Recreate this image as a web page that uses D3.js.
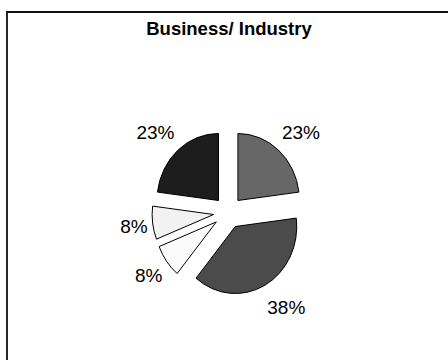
<!DOCTYPE html>
<html>
<head>
<meta charset="utf-8">
<script src="https://cdn.jsdelivr.net/npm/d3@7"></script>
<style>
  html, body { margin: 0; padding: 0; background: #fff; }
  svg { display: block; }
</style>
</head>
<body>
<svg id="chart" width="448" height="360"></svg>
<script>
// Share of respondents, clockwise from 12 o'clock
const categories = ["A", "B", "C", "D", "E"];
const values = [23, 38, 8, 8, 23];
const labels = ["23%", "38%", "8%", "8%", "23%"];
const fills = ["#676767", "#4b4b4b", "#fbfbfb", "#f2f2f2", "#1d1d1d"];
const title = "Business/ Industry";

const W = 448, H = 360;
const svg = d3.select("#chart");

// chart area frame (open on the right and bottom)
svg.append("path")
  .attr("d", `M7,${H + 2}V12H${W + 2}`)
  .attr("fill", "none")
  .attr("stroke", "#111")
  .attr("stroke-width", 1.8);

svg.append("text")
  .attr("x", 229)
  .attr("y", 35)
  .attr("text-anchor", "middle")
  .attr("font-family", "Liberation Sans, Arial, sans-serif")
  .attr("font-weight", "bold")
  .attr("font-size", 18.5)
  .attr("fill", "#000")
  .text(title);

// pie geometry: slightly elliptical, every slice pulled out from the centre
const cx = 228.2, cy = 212.5;
const ry = 67, rx = 61.5;
const sx = rx / ry;
const explode = 16;

const pie = d3.pie().sort(null).value(d => d.value);
const arcs = pie(categories.map((c, i) => ({ cat: c, value: values[i], label: labels[i], fill: fills[i] })));
const arc = d3.arc().innerRadius(0).outerRadius(ry);

const mid = a => (a.startAngle + a.endAngle) / 2;
const origin = a => {
  const m = mid(a);
  return [cx + explode * sx * Math.sin(m), cy - explode * Math.cos(m)];
};

const slices = svg.append("g");
arcs.forEach(a => {
  const [ox, oy] = origin(a);
  slices.append("path")
    .attr("transform", `translate(${ox},${oy}) scale(${sx},1)`)
    .attr("d", arc(a))
    .attr("fill", a.data.fill)
    .attr("stroke", "#000")
    .attr("stroke-width", 1)
    .attr("stroke-linejoin", "round")
    .attr("vector-effect", "non-scaling-stroke");
});

// value labels just outside each slice
const fontSize = 19;
const capHalf = 0.716 * fontSize / 2;
const labelG = svg.append("g")
  .attr("font-family", "Liberation Sans, Arial, sans-serif")
  .attr("font-size", fontSize)
  .attr("fill", "#000");

arcs.forEach(a => {
  const [ox, oy] = origin(a);
  const m = mid(a);
  const t = labelG.append("text")
    .attr("text-anchor", "middle")
    .text(a.data.label);
  const hw = t.node().getComputedTextLength() / 2;
  const s = Math.sin(m);
  const x = ox + (rx + 5) * s + hw * Math.sign(s);
  const y = oy - (ry + 24.5) * Math.cos(m);
  t.attr("x", x).attr("y", y + capHalf);
});
</script>
</body>
</html>
